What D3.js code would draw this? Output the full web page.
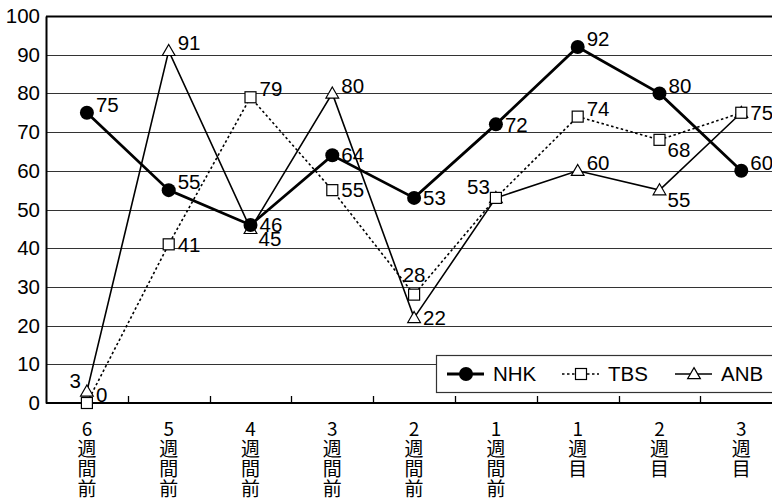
<!DOCTYPE html>
<html>
<head>
<meta charset="utf-8">
<script src="https://cdn.jsdelivr.net/npm/d3@7"></script>
<style>
  body { margin: 0; background: #fff; }
  svg { display: block; font-family: "Liberation Sans", Arial, sans-serif; }
</style>
</head>
<body>
<svg></svg>
<script>
// categories (x axis), each label split into lines
let categories = ['6週間前', '5週間前', '4週間前', '3週間前', '2週間前', '1週間前', '1週目', '2週目', '3週目']

let seriesNames = ['NHK', 'TBS', 'ANB']
let nhkValues = [75, 55, 46, 64, 53, 72, 92, 80, 60]
let tbsValues = [0, 41, 79, 55, 28, 53, 74, 68, 75]
let anbValues = [3, 91, 45, 80, 22, 53, 60, 55, 75]

// where each value label sits next to its point ('' = hidden by overlap)
let nhkLabelSide = ['ne', 'ne', 'e', 'e', 'e', 'e', 'ne', 'ne', 'ne']
let tbsLabelSide = ['ne', 'e', 'ne', 'e', 'n', 'nw', 'ne', 'se', 'e']
let anbLabelSide = ['nw', 'ne', 'se', 'ne', 'e', '', 'ne', 'se', '']

let yTicks = [0, 10, 20, 30, 40, 50, 60, 70, 80, 90, 100]

let width = 772
let height = 501
let plotLeft = 46
let plotTop = 16
let plotBottom = 403
let bandW = 81.8
let fontSize = 20.5

let svg = d3.select('svg').attr('width', width).attr('height', height)

let xScale = d3.scaleBand()
    .domain(categories)
    .range([plotLeft, plotLeft + bandW * categories.length])

let yScale = d3.scaleLinear()
    .domain([0, 100])
    .range([plotBottom, plotTop])

let xr = xScale.range()[1]

// horizontal grid
svg.append('g')
    .selectAll('line')
    .data(yTicks.filter(d => d > 0))
    .enter()
    .append('line')
    .attr('x1', plotLeft)
    .attr('x2', xr)
    .attr('y1', d => Math.round(yScale(d)) + 0.5)
    .attr('y2', d => Math.round(yScale(d)) + 0.5)
    .attr('stroke', d => d == 100 ? '#000' : '#333')
    .attr('stroke-width', d => d == 100 ? 2 : 1.2)

// y axis
let yAxis = d3.axisLeft(yScale).tickValues(yTicks).tickSize(0).tickPadding(6)
let gy = svg.append('g')
    .attr('transform', 'translate(' + plotLeft + ',0)')
    .call(yAxis)
gy.select('.domain').attr('stroke', '#000').attr('stroke-width', 2)
gy.selectAll('text')
    .attr('font-size', fontSize)
    .attr('font-family', '"Liberation Sans", Arial, sans-serif')
    .attr('fill', '#000')

// x axis with ticks between bands, pointing up
let xAxisG = svg.append('g')
    .attr('transform', 'translate(0,' + plotBottom + ')')
xAxisG.append('line')
    .attr('x1', plotLeft).attr('x2', xr)
    .attr('stroke', '#000').attr('stroke-width', 2)
xAxisG.selectAll('.tk')
    .data(categories.slice(1))
    .enter()
    .append('line')
    .attr('class', 'tk')
    .attr('x1', d => Math.round(xScale(d)) + 0.5)
    .attr('x2', d => Math.round(xScale(d)) + 0.5)
    .attr('y1', 0).attr('y2', -7)
    .attr('stroke', '#000').attr('stroke-width', 1.3)

let xLabels = xAxisG.selectAll('.xl')
    .data(categories)
    .enter()
    .append('text')
    .attr('class', 'xl')
    .attr('text-anchor', 'middle')
    .attr('font-size', 19)
    .attr('font-family', '"Noto Sans CJK JP", sans-serif')
    .attr('fill', '#000')
xLabels.selectAll('tspan')
    .data(d => {
        let num = d.match(/^\d+/)[0]
        return [num].concat(Array.from(d.slice(num.length))).map(c => [d, c])
    })
    .enter()
    .append('tspan')
    .attr('x', d => xScale(d[0]) + xScale.bandwidth() / 2)
    .attr('y', (d, i) => 33 + i * 20)
    .text(d => d[1])

// series
let series = [
    { name: seriesNames[0], values: nhkValues, side: nhkLabelSide, width: 2.8, dash: null, marker: 'circle' },
    { name: seriesNames[1], values: tbsValues, side: tbsLabelSide, width: 1.6, dash: '2.5,2.5', marker: 'square' },
    { name: seriesNames[2], values: anbValues, side: anbLabelSide, width: 1.6, dash: null, marker: 'triangle' }
]

let cx = (i) => xScale(categories[i]) + xScale.bandwidth() / 2

let line = d3.line()
    .x((d, i) => cx(i))
    .y(d => yScale(d))

let drawMarker = (g, type, x, y) => {
    if (type == 'circle') {
        g.append('circle').attr('cx', x).attr('cy', y).attr('r', 7).attr('fill', '#000')
    } else if (type == 'square') {
        g.append('rect').attr('x', x - 5.5).attr('y', y - 5.5).attr('width', 11).attr('height', 11)
            .attr('fill', '#fff').attr('stroke', '#000').attr('stroke-width', 1.2)
    } else {
        g.append('path')
            .attr('d', d3.symbol(d3.symbolTriangle, 70)())
            .attr('transform', 'translate(' + x + ',' + (y + 1) + ')')
            .attr('fill', '#fff').attr('stroke', '#000').attr('stroke-width', 1.2)
    }
}

// draw lines in reverse so NHK is on top
series.slice().reverse().forEach(s => {
    svg.append('path')
        .datum(s.values)
        .attr('d', line)
        .attr('fill', 'none')
        .attr('stroke', '#000')
        .attr('stroke-width', s.width)
        .attr('stroke-dasharray', s.dash)
})
series.slice().reverse().forEach(s => {
    let g = svg.append('g')
    s.values.forEach((v, i) => drawMarker(g, s.marker, cx(i), yScale(v)))
})

let offsets = {
    ne: [9, -8, 'start'],
    e: [9, 0, 'start'],
    se: [8, 10, 'start'],
    n: [0, -20, 'middle'],
    nw: [-6, -11, 'end']
}

series.forEach(s => {
    svg.append('g')
        .selectAll('text')
        .data(s.values.map((v, i) => [v, i, s.side[i]]).filter(d => d[2]))
        .enter()
        .append('text')
        .attr('x', d => cx(d[1]) + offsets[d[2]][0])
        .attr('y', d => yScale(d[0]) + offsets[d[2]][1])
        .attr('dy', '0.35em')
        .attr('text-anchor', d => offsets[d[2]][2])
        .attr('font-size', fontSize)
        .attr('fill', '#000')
        .text(d => d[0])
})

// legend
let lg = svg.append('g').attr('transform', 'translate(436,355)')
lg.append('rect')
    .attr('x', 0.5).attr('y', 0.5)
    .attr('width', 360).attr('height', 37)
    .attr('fill', '#fff').attr('stroke', '#333').attr('stroke-width', 1.2)
let legendX = [11, 126, 239]
series.forEach((s, i) => {
    let x0 = legendX[i]
    lg.append('line')
        .attr('x1', x0).attr('x2', x0 + 37)
        .attr('y1', 19).attr('y2', 19)
        .attr('stroke', '#000')
        .attr('stroke-width', s.width)
        .attr('stroke-dasharray', s.dash)
    drawMarker(lg, s.marker, x0 + 19, 19)
    lg.append('text')
        .attr('x', x0 + 46)
        .attr('y', 19)
        .attr('dy', '0.35em')
        .attr('font-size', fontSize)
        .attr('fill', '#000')
        .text(s.name)
})
</script>
</body>
</html>
